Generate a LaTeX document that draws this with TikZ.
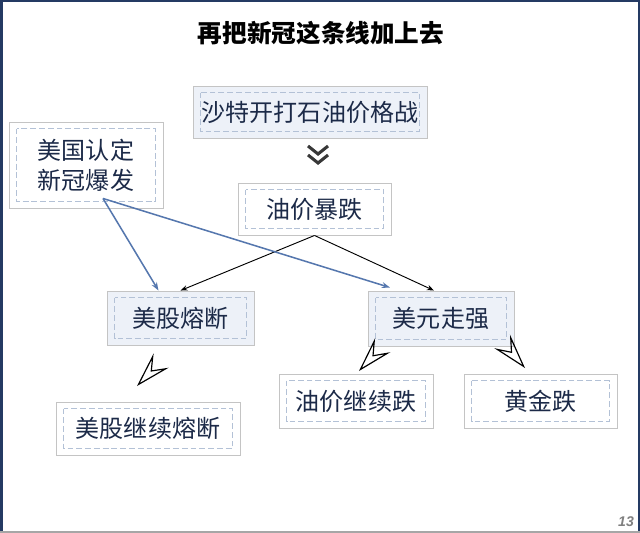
\documentclass[tikz,border=0pt]{standalone}
\usepackage{fontspec}
\setmainfont{Liberation Sans}
\newfontfamily\cjk{Noto Sans CJK SC}
\usetikzlibrary{arrows.meta,shadows}
\definecolor{navy}{HTML}{243A63}
\definecolor{inkblue}{HTML}{1C2A48}
\definecolor{paleblue}{HTML}{EDF1F8}
\definecolor{dashblue}{HTML}{B3C1D6}
\definecolor{linkblue}{HTML}{5577AE}
\definecolor{rim}{HTML}{C4C4C4}

\begin{document}
\begin{tikzpicture}[x=0.03cm, y=-0.03cm]
    \tikzstyle{box} = [rectangle, draw=rim, line width=0.8pt, fill=white, text=inkblue,
        font=\cjk\fontsize{20.5}{25.5}\selectfont, align=center, inner sep=0pt,
        drop shadow={shadow xshift=0.6pt, shadow yshift=-0.6pt, opacity=0.3}]
    \tikzstyle{tinted} = [box, fill=paleblue]
    \tikzstyle{inner} = [draw=dashblue, line width=1.5pt, dash pattern=on 5pt off 2.5pt]
    \tikzstyle{chev} = [draw=black!78, line width=2.6pt]
    \tikzstyle{dark} = [draw=black, line width=0.8pt, -{Stealth[length=6pt, width=4.5pt]}]
    \tikzstyle{covid} = [draw=linkblue, line width=1.3pt, -{Stealth[length=7pt, width=5pt]}]
    \tikzstyle{hollow} = [draw=white, line width=1pt, shorten <=2pt,
        -{Stealth[open, color=black, length=1.05cm, width=0.62cm, inset=0.4cm]}]

    \useasboundingbox (0,0) rectangle (640,533);
    \fill [white] (0,0) rectangle (640,533);
    \draw [navy, line width=1.7pt] (0,1) -- (640,1);
    \draw [navy, line width=2.5pt] (1.5,0) -- (1.5,533);
    \draw [navy, line width=1.7pt] (639,0) -- (639,533);
    \draw [black!35, line width=1.7pt] (0,532) -- (640,532);

    \node (t) at (321,33) [font=\cjk\bfseries\fontsize{21}{24}\selectfont] {再把新冠这条线加上去};

    \node (a) at (310,112) [tinted, minimum width=7.02cm, minimum height=1.56cm] {沙特开打石油价格战};
    \node (b) at (314.5,209) [box, minimum width=4.59cm, minimum height=1.56cm] {油价暴跌};
    \node (c) at (86,165) [box, minimum width=4.62cm, minimum height=2.58cm] {美国认定\\新冠爆发};

    \node (d) at (180.5,318) [tinted, minimum width=4.41cm, minimum height=1.62cm] {美股熔断};
    \node (e) at (441,318.5) [tinted, minimum width=4.38cm, minimum height=1.65cm] {美元走强};

    \node (f) at (148,428.5) [box, minimum width=5.52cm, minimum height=1.59cm] {美股继续熔断};
    \node (g) at (356,401) [box, minimum width=4.62cm, minimum height=1.62cm] {油价继续跌};
    \node (h) at (540.5,401) [box, minimum width=4.59cm, minimum height=1.62cm] {黄金跌};

    \node (n) at (626,522) [text=black!50, font=\bfseries\itshape\fontsize{12}{12}\selectfont] {13};

    \foreach \n in {a,b,c,d,e,f,g,h}
        \draw [inner] ([shift={(8,7)}]\n.north west) rectangle ([shift={(-8,-7)}]\n.south east);

    \foreach \y in {146,155}
        \draw [chev] (308,\y) -- ++(10,8) -- ++(10,-8);

    \draw [dark] (b.south) -- (d.north);
    \draw [dark] (b.south) -- ([shift={(-7,0)}]e.north);

    \coordinate (s) at ([shift={(17,-10)}]c.south);
    \draw [covid] (s) -- ([shift={(-22,0)}]d.north);
    \draw [covid] (s) -- ([shift={(-51,-3)}]e.north);

    \coordinate (p) at (137,386);
    \coordinate (q) at (359,371);
    \coordinate (r) at (525,368);
    \draw [hollow] ([shift={(-5,0)}]d.south) -- (p);
    \draw [hollow] ([shift={(14,0)}]e.south west) -- (q);
    \draw [hollow] ([shift={(-8,0)}]e.south east) -- (r);
\end{tikzpicture}
\end{document}
